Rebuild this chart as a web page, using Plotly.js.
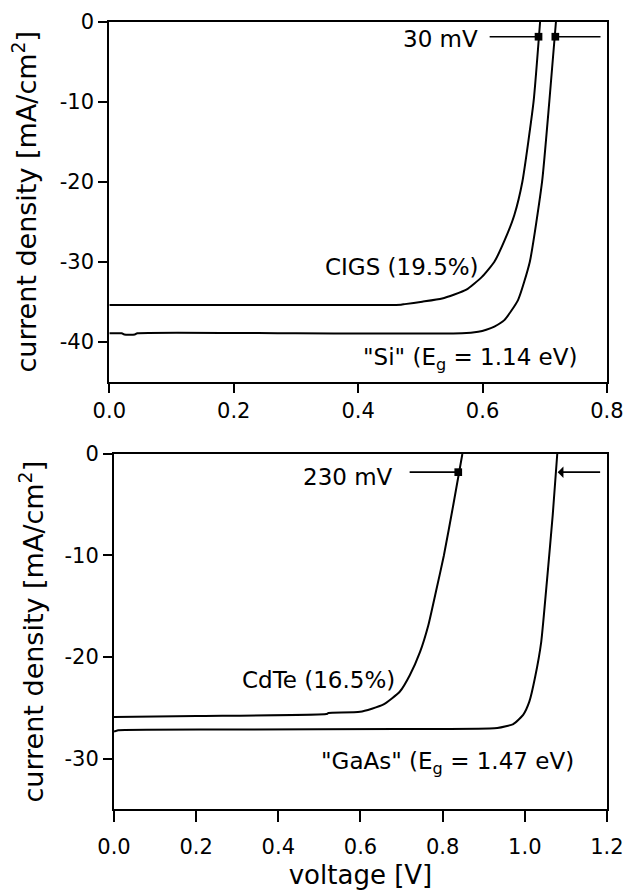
<!DOCTYPE html>
<html>
<head>
<meta charset="utf-8">
<script src="https://cdn.plot.ly/plotly-3.0.1.min.js"></script>
<style>html,body{margin:0;padding:0;background:#fff;}#chart{width:624px;height:890px;}</style>
</head>
<body>
<div id="chart"></div>
<script>
// ---- data ----
const cigsV = [0, 0.2, 0.469, 0.475, 0.503, 0.535, 0.574, 0.599, 0.619, 0.640, 0.651, 0.664, 0.682, 0.6925];
const cigsJ = [-35.4, -35.4, -35.38, -35.3, -35.0, -34.6, -33.5, -31.9, -30.0, -26.5, -24.2, -20.0, -10.0, 0];

const siV = [0, 0.02, 0.024, 0.041, 0.045, 0.3, 0.567, 0.593, 0.606, 0.619, 0.635, 0.657, 0.676, 0.6957, 0.7073, 0.718];
const siJ = [-38.95, -38.95, -39.1, -39.1, -38.95, -38.95, -38.95, -38.75, -38.5, -38.1, -37.3, -34.8, -30.0, -20.0, -10.0, 0];

const cdteV = [0, 0.2, 0.517, 0.522, 0.599, 0.655, 0.696, 0.72, 0.745, 0.765, 0.784, 0.803, 0.826, 0.848];
const cdteJ = [-25.9, -25.8, -25.62, -25.52, -25.4, -24.7, -23.4, -21.8, -19.5, -16.9, -13.5, -10.0, -5.0, 0];

const gaasV = [0, 0.01, 0.3, 0.69, 0.933, 0.972, 0.996, 1.011, 1.025, 1.04, 1.055, 1.068, 1.079];
const gaasJ = [-27.35, -27.22, -27.15, -27.1, -27.0, -26.6, -25.7, -24.4, -22.0, -18.5, -12.0, -6.0, 0];

const topXTicks = [0, 0.2, 0.4, 0.6, 0.8];
const topXText = ["0.0", "0.2", "0.4", "0.6", "0.8"];
const topYTicks = [0, -10, -20, -30, -40];
const topYText = ["0", "-10", "-20", "-30", "-40"];
const botXTicks = [0, 0.2, 0.4, 0.6, 0.8, 1.0, 1.2];
const botXText = ["0.0", "0.2", "0.4", "0.6", "0.8", "1.0", "1.2"];
const botYTicks = [0, -10, -20, -30];
const botYText = ["0", "-10", "-20", "-30"];

const yTitle = "current density [mA/cm<sup>2</sup>]";
const xTitle = "voltage [V]";
const labelCIGS = "CIGS (19.5%)";
const labelSi = "\"Si\" (E<sub>g</sub> = 1.14 eV)";
const labelCdTe = "CdTe (16.5%)";
const labelGaAs = "\"GaAs\" (E<sub>g</sub> = 1.47 eV)";
const gapTop = "30 mV";
const gapBot = "230 mV";

// ---- plot ----
const FONT = "DejaVu Sans, Arial, sans-serif";
const lineStyle = {color: "black", width: 2, shape: "spline", smoothing: 0.5};
const traces = [
  {x: cigsV, y: cigsJ, xaxis: "x", yaxis: "y", mode: "lines", line: lineStyle, name: "CIGS"},
  {x: siV, y: siJ, xaxis: "x", yaxis: "y", mode: "lines", line: lineStyle, name: "Si"},
  {x: cdteV, y: cdteJ, xaxis: "x2", yaxis: "y2", mode: "lines", line: lineStyle, name: "CdTe"},
  {x: gaasV, y: gaasJ, xaxis: "x2", yaxis: "y2", mode: "lines", line: lineStyle, name: "GaAs"}
];

function axisBase(extra) {
  return Object.assign({
    showline: true, linecolor: "black", linewidth: 2, mirror: true,
    ticks: "outside", ticklen: 9, tickwidth: 2, tickcolor: "black",
    showgrid: false, zeroline: false, automargin: false,
    tickmode: "array",
    tickfont: {family: FONT, size: 21, color: "black"}
  }, extra);
}

const titleFont = {family: FONT, size: 27, color: "black"};
const xTitleFont = {family: FONT, size: 26, color: "black"};
const annFont = {family: FONT, size: 23, color: "black"};
const arrowCommon = {text: "", showarrow: true, arrowcolor: "black", arrowwidth: 1.6, arrowsize: 1.2, standoff: 0, startstandoff: 0};

const layout = {
  width: 624, height: 890,
  margin: {l: 0, r: 0, t: 0, b: 0},
  paper_bgcolor: "white", plot_bgcolor: "white",
  showlegend: false,
  font: {family: FONT, color: "black"},
  xaxis: axisBase({domain: [0.1752, 0.9727], range: [0, 0.8], tickvals: topXTicks, ticktext: topXText, anchor: "y"}),
  yaxis: axisBase({domain: [0.5711, 0.9756], range: [-45, 0], tickvals: topYTicks, ticktext: topYText, anchor: "x",
    title: {text: yTitle, font: titleFont, standoff: 15}}),
  xaxis2: axisBase({domain: [0.1827, 0.9727], range: [0, 1.2], tickvals: botXTicks, ticktext: botXText, anchor: "y2",
    ticklen: 11, ticklabelstandoff: 7,
    title: {text: xTitle, font: xTitleFont, standoff: 14}}),
  yaxis2: axisBase({domain: [0.0907, 0.4899], range: [-35, 0], tickvals: botYTicks, ticktext: botYText, anchor: "x2",
    title: {text: yTitle, font: titleFont, standoff: 13}}),
  annotations: [
    {xref: "x", yref: "y", x: 0.596, y: -2.2, text: gapTop, showarrow: false, xanchor: "right", yanchor: "middle", font: annFont},
    Object.assign({xref: "x", yref: "y", x: 0.690, y: -1.875, axref: "x", ayref: "y", ax: 0.609, ay: -1.875, arrowhead: 7}, arrowCommon),
    Object.assign({xref: "x", yref: "y", x: 0.717, y: -1.875, axref: "x", ayref: "y", ax: 0.792, ay: -1.875, arrowhead: 7}, arrowCommon),
    {xref: "x", yref: "y", x: 0.597, y: -30.6, text: labelCIGS, showarrow: false, xanchor: "right", yanchor: "middle", font: annFont},
    {xref: "x", yref: "y", x: 0.405, y: -42.2, text: labelSi, showarrow: false, xanchor: "left", yanchor: "middle", font: annFont},

    {xref: "x2", yref: "y2", x: 0.684, y: -2.3, text: gapBot, showarrow: false, xanchor: "right", yanchor: "middle", font: annFont},
    Object.assign({xref: "x2", yref: "y2", x: 0.838, y: -1.79, axref: "x2", ayref: "y2", ax: 0.716, ay: -1.79, arrowhead: 7}, arrowCommon),
    Object.assign({xref: "x2", yref: "y2", x: 1.08, y: -1.79, axref: "x2", ayref: "y2", ax: 1.187, ay: -1.79, arrowhead: 1}, arrowCommon),
    {xref: "x2", yref: "y2", x: 0.69, y: -22.3, text: labelCdTe, showarrow: false, xanchor: "right", yanchor: "middle", font: annFont},
    {xref: "x2", yref: "y2", x: 0.50, y: -30.4, text: labelGaAs, showarrow: false, xanchor: "left", yanchor: "middle", font: annFont}
  ]
};

Plotly.newPlot("chart", traces, layout, {staticPlot: true, displayModeBar: false});
</script>
</body>
</html>
